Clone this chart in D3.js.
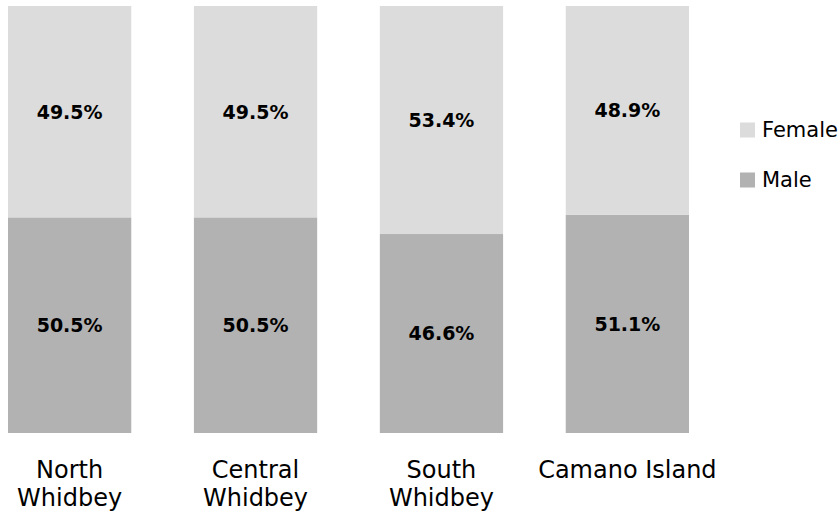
<!DOCTYPE html>
<html><head><meta charset="utf-8">
<script src="https://cdn.jsdelivr.net/npm/d3@7"></script>
<style>body{margin:0;background:#fff}svg{display:block}</style>
</head><body><svg id="c" width="840" height="516"></svg>
<script>
const categories = [["North","Whidbey"],["Central","Whidbey"],["South","Whidbey"],["Camano Island"]];
const male = [50.5, 50.5, 46.6, 51.1];
const female = [49.5, 49.5, 53.4, 48.9];
const seriesNames = ["Female","Male"];
const colors = {Male:"#b2b2b2", Female:"#dcdcdc"};

const svg = d3.select("#c");
const font = "DejaVu Sans, Verdana, sans-serif";
const x0 = d3.scaleBand().domain(d3.range(categories.length)).range([8, 689]).paddingInner(0.337).paddingOuter(0);
const y = d3.scaleLinear().domain([0, 100]).range([433, 6]);

const data = categories.map((c,i)=>({i, Male:male[i], Female:female[i]}));
const stack = d3.stack().keys(["Male","Female"])(data);

const g = svg.append("g");
stack.forEach(layer=>{
  g.selectAll(null).data(layer).enter().append("rect")
    .attr("x", d=>x0(d.data.i))
    .attr("width", x0.bandwidth())
    .attr("y", d=>y(d[1]))
    .attr("height", d=>y(d[0])-y(d[1]))
    .attr("fill", colors[layer.key]);
  g.selectAll(null).data(layer).enter().append("text")
    .attr("x", d=>x0(d.data.i)+x0.bandwidth()/2)
    .attr("y", d=>(y(d[0])+y(d[1]))/2)
    .attr("dy","0.36em")
    .attr("text-anchor","middle")
    .attr("font-family", font)
    .attr("font-weight","bold")
    .attr("font-size", 19)
    .attr("fill","#000")
    .text(d=>d.data[layer.key].toFixed(1)+"%");
});

categories.forEach((lines,i)=>{
  const cx = x0(i)+x0.bandwidth()/2;
  const t = svg.append("text")
    .attr("x", cx)
    .attr("y", 478)
    .attr("text-anchor","middle")
    .attr("font-family", font)
    .attr("font-size", 24)
    .attr("fill","#000");
  lines.forEach((l,k)=>t.append("tspan").attr("x", cx).attr("dy", k===0?0:28).text(l));
});

const leg = svg.append("g");
const legY = [130, 180];
seriesNames.forEach((s,k)=>{
  leg.append("rect").attr("x",740).attr("y",legY[k]-7.5).attr("width",15).attr("height",15).attr("fill",colors[s]);
  leg.append("text").attr("x",762).attr("y",legY[k]).attr("dy","0.35em")
    .attr("font-family",font).attr("font-size",21).attr("fill","#000").text(s);
});
</script></body></html>
